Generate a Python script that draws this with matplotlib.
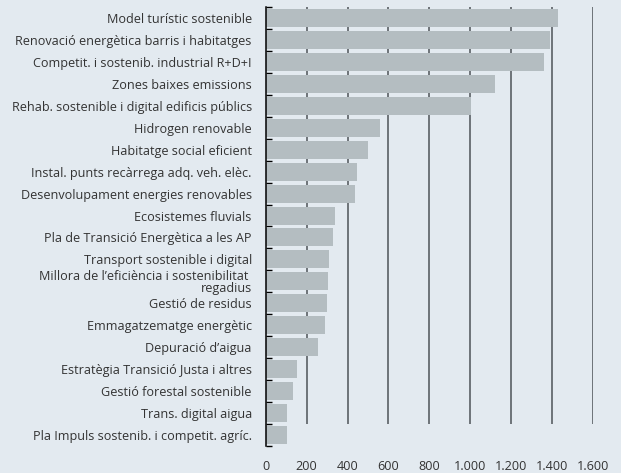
import matplotlib
matplotlib.use("Agg")
import matplotlib.pyplot as plt
import numpy as np

categories = [
    "Model turístic sostenible",
    "Renovació energètica barris i habitatges",
    "Competit. i sostenib. industrial R+D+I",
    "Zones baixes emissions",
    "Rehab. sostenible i digital edificis públics",
    "Hidrogen renovable",
    "Habitatge social eficient",
    "Instal. punts recàrrega adq. veh. elèc.",
    "Desenvolupament energies renovables",
    "Ecosistemes fluvials",
    "Pla de Transició Energètica a les AP",
    "Transport sostenible i digital",
    "Millora de l’eficiència i sostenibilitat \nregadius",
    "Gestió de residus",
    "Emmagatzematge energètic",
    "Depuració d’aigua",
    "Estratègia Transició Justa i altres",
    "Gestió forestal sostenible",
    "Trans. digital aigua",
    "Pla Impuls sostenib. i competit. agríc.",
]
values = [1428, 1390, 1361, 1121, 1004, 559, 500, 446, 437, 339,
          329, 310, 305, 300, 290, 256, 153, 134, 104, 104]
xticks = [0, 200, 400, 600, 800, 1000, 1200, 1400, 1600]
xticklabels = ["0", "200", "400", "600", "800", "1.000", "1.200", "1.400", "1.600"]

BG = "#e3eaf0"
BAR = "#b4bdc1"
TXT = "#333333"

plt.rcParams["font.family"] = ["Open Sans", "DejaVu Sans"]

fig = plt.figure(figsize=(6.21, 4.73), dpi=100, facecolor=BG)
ax = fig.add_axes([265.7 / 621, 1 - 446 / 473, (593 - 265.7) / 621, (446 - 7) / 473])
ax.set_facecolor(BG)

n = len(categories)
y = np.arange(n)
ax.vlines(xticks[1:], -0.5, n - 1.5, colors="#4d5358", linewidth=1.1, zorder=1)
ax.barh(y, values, height=0.82, color=BAR, zorder=2)

ax.set_xlim(0, 1600)
ax.set_ylim(n - 0.5, -0.5)

ax.set_yticks(y)
ax.set_yticklabels(categories, fontsize=9.1, color=TXT, linespacing=0.92)
ax.tick_params(axis="y", which="major", length=0, pad=10)
ax.set_yticks(np.arange(n + 1) - 0.5, minor=True)
ax.tick_params(axis="y", which="minor", length=4, width=1.0, direction="in", color="black")

ax.set_xticks(xticks)
ax.set_xticklabels(xticklabels, fontsize=9.1, color=TXT)
ax.tick_params(axis="x", length=0, pad=10)

for s in ["top", "right", "bottom"]:
    ax.spines[s].set_visible(False)
ax.spines["left"].set_color("black")
ax.spines["left"].set_linewidth(1.1)
ax.spines["left"].set_zorder(3)

fig.savefig("out.png", dpi=100, facecolor=BG)
